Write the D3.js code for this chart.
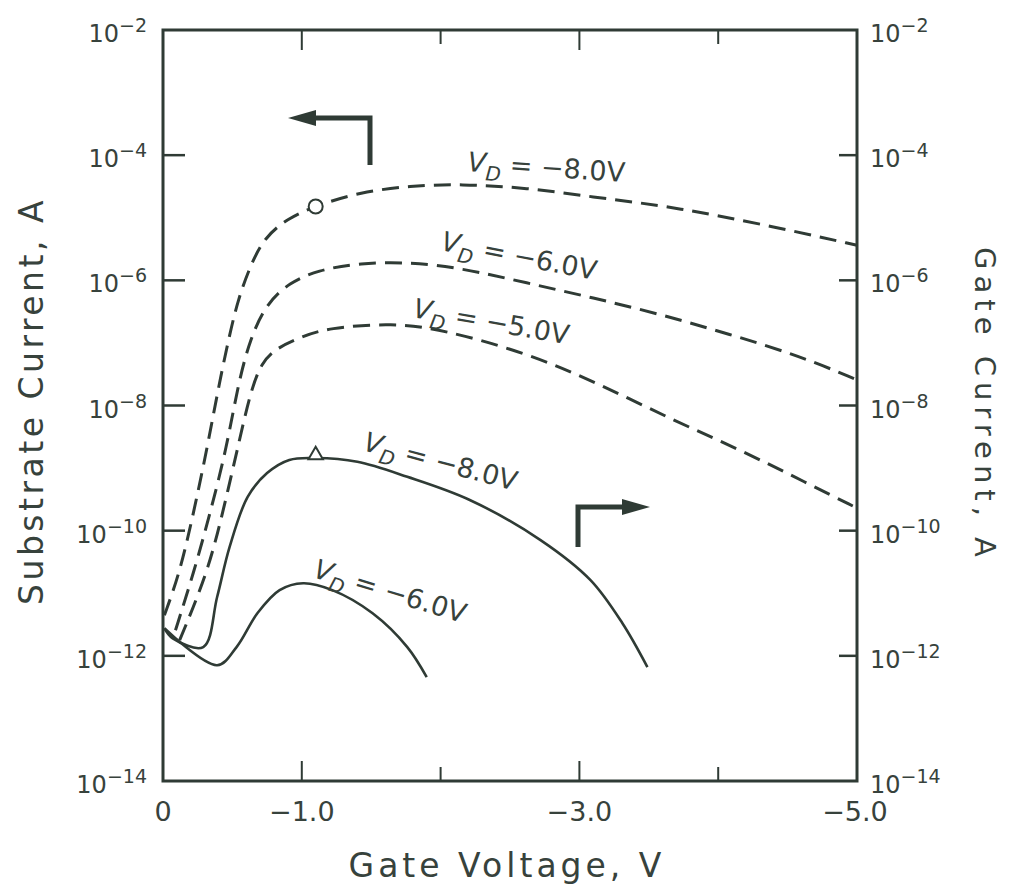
<!DOCTYPE html>
<html>
<head>
<meta charset="utf-8">
<script src="https://cdn.jsdelivr.net/npm/d3@7"></script>
<style>
  body { margin: 0; background: #fff; }
  svg text { font-family: "DejaVu Sans", sans-serif; fill: #37423c; }
</style>
</head>
<body>
<svg id="chart" width="1014" height="894"></svg>
<script>
// gate voltage (V) and log10 of the current (A)
const subVd8 = [
  [-0.01, -11.35], [-0.12, -10.68], [-0.22, -9.72], [-0.32, -8.66], [-0.41, -7.59],
  [-0.48, -6.87], [-0.54, -6.31], [-0.63, -5.76], [-0.73, -5.32], [-0.89, -5.02],
  [-1.11, -4.80], [-1.42, -4.59], [-1.78, -4.49], [-2.14, -4.46], [-2.62, -4.52],
  [-3.10, -4.67], [-3.58, -4.80], [-4.01, -4.97], [-4.52, -5.20], [-5.0, -5.44]
];
const subVd6 = [
  [-0.09, -11.59], [-0.22, -10.68], [-0.34, -9.72], [-0.46, -8.66], [-0.54, -7.67],
  [-0.63, -6.91], [-0.75, -6.36], [-0.91, -6.04], [-1.11, -5.84], [-1.42, -5.72],
  [-1.78, -5.71], [-2.14, -5.80], [-2.62, -6.04], [-3.10, -6.28], [-3.58, -6.54],
  [-4.08, -6.86], [-4.59, -7.21], [-5.0, -7.59]
];
const subVd5 = [
  [-0.12, -11.75], [-0.32, -10.68], [-0.43, -9.72], [-0.54, -8.66], [-0.63, -7.78],
  [-0.71, -7.31], [-0.82, -7.08], [-0.99, -6.91], [-1.18, -6.76], [-1.66, -6.68],
  [-2.02, -6.79], [-2.62, -7.16], [-3.13, -7.64], [-3.67, -8.23], [-4.16, -8.71],
  [-4.64, -9.24], [-5.0, -9.64]
];
const gateVd8 = [
  [-0.01, -11.56], [-0.07, -11.72], [-0.29, -11.86], [-0.39, -11.06], [-0.48, -10.26],
  [-0.61, -9.46], [-0.75, -9.08], [-0.91, -8.87], [-1.10, -8.84], [-1.40, -8.90],
  [-1.76, -9.14], [-2.21, -9.51], [-2.72, -10.15], [-3.08, -10.79], [-3.31, -11.48],
  [-3.49, -12.18]
];
const gateVd6 = [
  [-0.01, -11.56], [-0.39, -12.15], [-0.53, -11.86], [-0.68, -11.32], [-0.84, -10.95],
  [-1.01, -10.84], [-1.22, -10.95], [-1.51, -11.32], [-1.76, -11.86], [-1.90, -12.34]
];

const xMajor = [0, -1, -3, -5];
const xMinor = [-2, -4];
const yDecades = [-2, -4, -6, -8, -10, -12, -14];

const curves = [
  { data: subVd8, dashed: true, label: '-8.0V', lx: 467, ly: 171, rot: 4 },
  { data: subVd6, dashed: true, label: '-6.0V', lx: 440, ly: 250, rot: 11 },
  { data: subVd5, dashed: true, label: '-5.0V', lx: 412, ly: 317, rot: 10 },
  { data: gateVd8, dashed: false, label: '-8.0V', lx: 362, ly: 450, rot: 15 },
  { data: gateVd6, dashed: false, label: '-6.0V', lx: 312, ly: 577, rot: 17 }
];

const ink = '#2f3b35';
const svg = d3.select('#chart');

const x = d3.scaleLinear().domain([0, -5]).range([163, 857]);
const y = d3.scaleLinear().domain([-2, -14]).range([30, 781]);

// frame
svg.append('rect')
  .attr('x', x(0)).attr('y', y(-2))
  .attr('width', x(-5) - x(0)).attr('height', y(-14) - y(-2))
  .attr('fill', 'none').attr('stroke', ink).attr('stroke-width', 3);

// ticks on x (bottom and top, pointing in)
xMajor.concat(xMinor).filter(d => d !== 0 && d !== -5).forEach(d => {
  let len = xMajor.includes(d) ? 20 : 14;
  svg.append('line').attr('x1', x(d)).attr('x2', x(d))
    .attr('y1', y(-14)).attr('y2', y(-14) - len)
    .attr('stroke', ink).attr('stroke-width', 2);
  svg.append('line').attr('x1', x(d)).attr('x2', x(d))
    .attr('y1', y(-2)).attr('y2', y(-2) + len)
    .attr('stroke', ink).attr('stroke-width', 2);
});

// ticks on y (both sides, pointing in)
yDecades.filter(d => d !== -2 && d !== -14).forEach(d => {
  svg.append('line').attr('x1', x(0)).attr('x2', x(0) + 22)
    .attr('y1', y(d)).attr('y2', y(d)).attr('stroke', ink).attr('stroke-width', 2.5);
  svg.append('line').attr('x1', x(-5)).attr('x2', x(-5) - 18)
    .attr('y1', y(d)).attr('y2', y(d)).attr('stroke', ink).attr('stroke-width', 2.5);
});

// x tick labels
svg.selectAll('.xlab').data(xMajor).enter().append('text')
  .attr('class', 'xlab')
  .attr('x', d => d === -5 ? x(d) - 2 : x(d))
  .attr('y', 821)
  .attr('text-anchor', 'middle')
  .attr('font-size', 27)
  .text(d => d === 0 ? '0' : '\u2212' + d3.format('.1f')(-d));

// y tick labels, left and right
function decadeLabel(sel, px, anchor) {
  sel.each(function(d) {
    let t = d3.select(this).attr('text-anchor', anchor)
      .attr('x', px).attr('y', y(d) + 12).attr('font-size', 24);
    t.append('tspan').text('10');
    t.append('tspan').attr('dy', -10).attr('font-size', 19).text('\u2212' + (-d));
  });
}
svg.selectAll('.ylab').data(yDecades).enter().append('text')
  .attr('class', 'ylab').call(decadeLabel, 147, 'end');
svg.selectAll('.ylab2').data(yDecades).enter().append('text')
  .attr('class', 'ylab2').call(decadeLabel, 870, 'start');

// axis titles
svg.append('text')
  .attr('transform', 'translate(507,877)')
  .attr('text-anchor', 'middle').attr('font-size', 33).attr('letter-spacing', 4)
  .text('Gate Voltage, V');
svg.append('text')
  .attr('transform', 'translate(43,401) rotate(-90)')
  .attr('text-anchor', 'middle').attr('font-size', 33).attr('letter-spacing', 3.5)
  .text('Substrate Current, A');
svg.append('text')
  .attr('transform', 'translate(975,405) rotate(90)')
  .attr('text-anchor', 'middle').attr('font-size', 29).attr('letter-spacing', 6)
  .text('Gate Current, A');

// curves
const dashedLine = d3.line()
  .x(d => x(d[0]))
  .y(d => y(d[1]))
  .curve(d3.curveBasis);
const solidLine = d3.line()
  .x(d => x(d[0]))
  .y(d => y(d[1]))
  .curve(d3.curveCatmullRom.alpha(0.5));

curves.forEach(c => {
  svg.append('path')
    .attr('d', c.dashed ? dashedLine(c.data) : solidLine(c.data))
    .attr('fill', 'none')
    .attr('stroke', ink)
    .attr('stroke-width', c.dashed ? 3 : 2.6)
    .attr('stroke-dasharray', c.dashed ? '17,9' : null);

  let t = svg.append('text')
    .attr('transform', 'translate(' + c.lx + ',' + c.ly + ') rotate(' + c.rot + ')')
    .attr('font-size', 27);
  t.append('tspan').attr('font-style', 'italic').text('V');
  t.append('tspan').attr('font-style', 'italic').attr('font-size', 20).attr('dy', 8).text('D');
  t.append('tspan').attr('dy', -8).text(' = ' + c.label.replace('-', '\u2212'));
});

// markers
svg.append('circle')
  .attr('cx', x(-1.10)).attr('cy', y(-4.82)).attr('r', 7)
  .attr('fill', '#fff').attr('stroke', ink).attr('stroke-width', 2);
svg.append('path')
  .attr('d', d3.symbol().type(d3.symbolTriangle).size(90)())
  .attr('transform', 'translate(' + x(-1.10) + ',' + (y(-8.84) - 3) + ')')
  .attr('fill', '#fff').attr('stroke', ink).attr('stroke-width', 2);

// direction arrows: left one for substrate, right one for gate
function bentArrow(x0, y0, yBend, x2) {
  let dir = Math.sign(x2 - x0);
  svg.append('path')
    .attr('d', 'M' + x0 + ',' + y0 + 'V' + yBend + 'H' + (x2 - dir * 20))
    .attr('fill', 'none').attr('stroke', ink).attr('stroke-width', 5);
  svg.append('path')
    .attr('d', 'M' + x2 + ',' + yBend + 'L' + (x2 - dir * 28) + ',' + (yBend - 8) +
      'L' + (x2 - dir * 28) + ',' + (yBend + 8) + 'Z')
    .attr('fill', ink);
}
bentArrow(370, 165, 118, 288);
bentArrow(578, 547, 507, 650);
</script>
</body>
</html>
